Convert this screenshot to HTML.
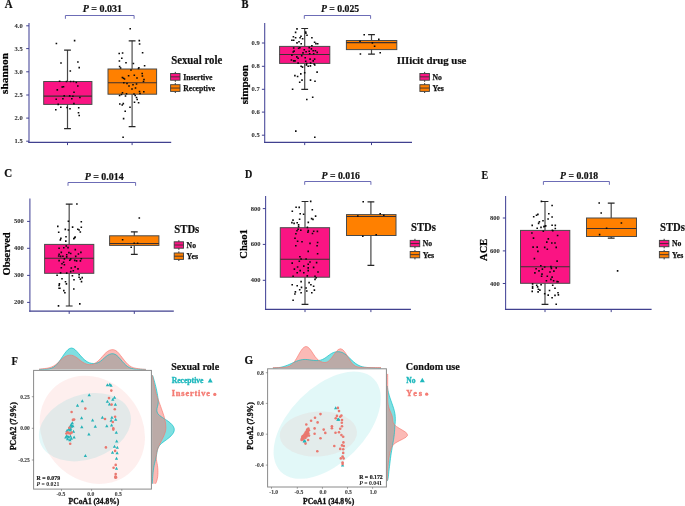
<!DOCTYPE html>
<html lang="en"><head><meta charset="utf-8"><title>Figure</title>
<style>
html,body{margin:0;padding:0;background:#fff;}
body{width:685px;height:506px;overflow:hidden;font-family:"Liberation Serif",serif;}
svg{display:block;}
text{white-space:pre;}
</style></head><body>
<svg width="685" height="506" viewBox="0 0 685 506" font-family="'Liberation Serif', serif" role="img" aria-label="Alpha and beta diversity figure">
<rect width="685" height="506" fill="#fff"/>
<path d="M29 23 V142.9" fill="none" stroke="#4c4c9c" stroke-width="1.1"/>
<path d="M28.35 142.4 H171.2" fill="none" stroke="#40408f" stroke-width="1.2"/>
<path d="M26.2 25.8 H29" stroke="#40408f" stroke-width="1"/>
<text x="22.7" y="27.85" font-size="6.5" font-weight="bold" text-anchor="end" fill="#303030" stroke="#303030" stroke-width="0.08">4.0</text>
<path d="M26.2 48.6 H29" stroke="#40408f" stroke-width="1"/>
<text x="22.7" y="50.65" font-size="6.5" font-weight="bold" text-anchor="end" fill="#303030" stroke="#303030" stroke-width="0.08">3.5</text>
<path d="M26.2 71.8 H29" stroke="#40408f" stroke-width="1"/>
<text x="22.7" y="73.85" font-size="6.5" font-weight="bold" text-anchor="end" fill="#303030" stroke="#303030" stroke-width="0.08">3.0</text>
<path d="M26.2 95 H29" stroke="#40408f" stroke-width="1"/>
<text x="22.7" y="97.05" font-size="6.5" font-weight="bold" text-anchor="end" fill="#303030" stroke="#303030" stroke-width="0.08">2.5</text>
<path d="M26.2 118.1 H29" stroke="#40408f" stroke-width="1"/>
<text x="22.7" y="120.15" font-size="6.5" font-weight="bold" text-anchor="end" fill="#303030" stroke="#303030" stroke-width="0.08">2.0</text>
<path d="M26.2 141.2 H29" stroke="#40408f" stroke-width="1"/>
<text x="22.7" y="143.25" font-size="6.5" font-weight="bold" text-anchor="end" fill="#303030" stroke="#303030" stroke-width="0.08">1.5</text>
<path d="M67.5 142.3 V145.1" stroke="#40408f" stroke-width="1"/>
<path d="M132.1 142.3 V145.1" stroke="#40408f" stroke-width="1"/>
<path d="M65.4 18.8 V15.5 H134.1 V18.8" fill="none" stroke="#6c6cb6" stroke-width="1"/>
<text x="102.35" y="12.1" font-size="10" font-weight="bold" text-anchor="middle" fill="#111" stroke="#111" stroke-width="0.22" textLength="39.3" lengthAdjust="spacingAndGlyphs"><tspan font-style="italic">P</tspan> = 0.031</text>
<path d="M67.5 50.1 V128.6" stroke="#474747" stroke-width="1.2" fill="none"/>
<path d="M64.1 50.2 H70.9 M64.1 128.7 H70.9" stroke="#262626" stroke-width="1.2" fill="none"/>
<rect x="43.7" y="81.5" width="48.2" height="22.9" fill="#fa1483" stroke="#4a4a4a" stroke-width="1"/>
<path d="M43.7 96.1 H91.9" stroke="#3c3030" stroke-width="1.05"/>
<path d="M132.1 40.7 V126.5" stroke="#5c5c5c" stroke-width="1.3" fill="none"/>
<path d="M128.7 40.8 H135.5 M128.7 126.6 H135.5" stroke="#262626" stroke-width="1.2" fill="none"/>
<rect x="108" y="69" width="48.6" height="25.2" fill="#ff8000" stroke="#4a4a4a" stroke-width="1"/>
<path d="M108 82.7 H156.6" stroke="#3c3030" stroke-width="1.05"/>
<path d="M55.6 42.7h1.6v1.6h-1.6zM73.8 39.8h1.6v1.6h-1.6zM60.2 62.2h1.6v1.6h-1.6zM77.1 61.2h1.6v1.6h-1.6zM78.4 66.8h1.6v1.6h-1.6zM69.5 70.2h1.6v1.6h-1.6zM58.8 80.5h1.6v1.6h-1.6zM65.7 80.7h1.6v1.6h-1.6zM69.8 80.7h1.6v1.6h-1.6zM72.7 80.7h1.6v1.6h-1.6zM75.5 81.7h1.6v1.6h-1.6zM77 85.2h1.6v1.6h-1.6zM62.7 86h1.6v1.6h-1.6zM61.4 86.2h1.6v1.6h-1.6zM56.5 89.1h1.6v1.6h-1.6zM73.2 91.4h1.6v1.6h-1.6zM63.4 95.1h1.6v1.6h-1.6zM68.9 95.1h1.6v1.6h-1.6zM72.1 95.4h1.6v1.6h-1.6zM55.4 98.4h1.6v1.6h-1.6zM62.1 97.9h1.6v1.6h-1.6zM71 97.9h1.6v1.6h-1.6zM79.1 96.7h1.6v1.6h-1.6zM57.4 103.6h1.6v1.6h-1.6zM73.1 102.8h1.6v1.6h-1.6zM55 108.9h1.6v1.6h-1.6zM60 106.5h1.6v1.6h-1.6zM66.2 106.7h1.6v1.6h-1.6zM69.2 108h1.6v1.6h-1.6zM77.9 107h1.6v1.6h-1.6zM77.7 112h1.6v1.6h-1.6zM78.4 114.7h1.6v1.6h-1.6zM129.4 28h1.6v1.6h-1.6zM138.5 39.8h1.6v1.6h-1.6zM138.8 43.2h1.6v1.6h-1.6zM118.4 52.7h1.6v1.6h-1.6zM121.8 52.2h1.6v1.6h-1.6zM121 57.4h1.6v1.6h-1.6zM141.8 51.9h1.6v1.6h-1.6zM118.6 60.2h1.6v1.6h-1.6zM125.2 62h1.6v1.6h-1.6zM132.6 62.7h1.6v1.6h-1.6zM143.8 65h1.6v1.6h-1.6zM118.8 65.7h1.6v1.6h-1.6zM119.8 67.2h1.6v1.6h-1.6zM137.7 67.7h1.6v1.6h-1.6zM138.1 67h1.6v1.6h-1.6zM127.8 75h1.6v1.6h-1.6zM133.5 74.5h1.6v1.6h-1.6zM141.4 72.7h1.6v1.6h-1.6zM141.6 75.2h1.6v1.6h-1.6zM121.6 76.7h1.6v1.6h-1.6zM122.7 77.4h1.6v1.6h-1.6zM123.7 78.2h1.6v1.6h-1.6zM136.2 77.2h1.6v1.6h-1.6zM143.2 78.7h1.6v1.6h-1.6zM142.7 80.7h1.6v1.6h-1.6zM123 82h1.6v1.6h-1.6zM126.2 82.7h1.6v1.6h-1.6zM132.2 84h1.6v1.6h-1.6zM135.7 83.2h1.6v1.6h-1.6zM134.7 87.2h1.6v1.6h-1.6zM138.7 90.7h1.6v1.6h-1.6zM143 91h1.6v1.6h-1.6zM139.2 92.7h1.6v1.6h-1.6zM121.7 92h1.6v1.6h-1.6zM125.7 93h1.6v1.6h-1.6zM133.2 93.2h1.6v1.6h-1.6zM118.8 94.7h1.6v1.6h-1.6zM120.7 93.7h1.6v1.6h-1.6zM124.7 95.2h1.6v1.6h-1.6zM134.4 94.7h1.6v1.6h-1.6zM135.7 96.7h1.6v1.6h-1.6zM136.4 98.7h1.6v1.6h-1.6zM133.7 101.5h1.6v1.6h-1.6zM137.8 102h1.6v1.6h-1.6zM119 103.2h1.6v1.6h-1.6zM121.4 104.2h1.6v1.6h-1.6zM122.5 102.8h1.6v1.6h-1.6zM129.2 106.4h1.6v1.6h-1.6zM124.4 110.4h1.6v1.6h-1.6zM122.8 117.8h1.6v1.6h-1.6zM122.3 136.4h1.6v1.6h-1.6zM130.2 69.2h1.6v1.6h-1.6zM128.2 85.2h1.6v1.6h-1.6zM131.2 88.2h1.6v1.6h-1.6z" fill="#0a0a0a"/>
<text x="4.8" y="8.1" font-size="11.6" font-weight="bold" text-anchor="start" fill="#111" textLength="7.8" lengthAdjust="spacingAndGlyphs" stroke="#111" stroke-width="0.22">A</text>
<text transform="translate(7.8 73.5) rotate(-90)" font-size="11" font-weight="bold" text-anchor="middle" fill="#000" stroke="#000" stroke-width="0.22" textLength="41" lengthAdjust="spacingAndGlyphs">shannon</text>
<text x="171.2" y="64.3" font-size="12.3" font-weight="bold" text-anchor="start" fill="#111" textLength="51" lengthAdjust="spacingAndGlyphs" stroke="#111" stroke-width="0.22">Sexual role</text>
<path d="M175.3 71.9 V81.8" stroke="#333" stroke-width="1"/>
<rect x="170.6" y="73.5" width="9.4" height="6.7" fill="#fa1483" stroke="#444" stroke-width="0.95"/>
<path d="M170.6 76.85 H180" stroke="#3a3030" stroke-width="0.9"/>
<text x="183.3" y="79.7" font-size="9.2" font-weight="bold" text-anchor="start" fill="#111" textLength="29.2" lengthAdjust="spacingAndGlyphs" stroke="#111" stroke-width="0.25">Insertive</text>
<path d="M175.3 83.1 V93" stroke="#333" stroke-width="1"/>
<rect x="170.6" y="84.7" width="9.4" height="6.7" fill="#ff8000" stroke="#444" stroke-width="0.95"/>
<path d="M170.6 88.05 H180" stroke="#3a3030" stroke-width="0.9"/>
<text x="183.3" y="90.9" font-size="9.2" font-weight="bold" text-anchor="start" fill="#111" textLength="31.8" lengthAdjust="spacingAndGlyphs" stroke="#111" stroke-width="0.25">Receptive</text>
<path d="M264.7 23 V142.9" fill="none" stroke="#4c4c9c" stroke-width="1.1"/>
<path d="M264.05 142.4 H412" fill="none" stroke="#40408f" stroke-width="1.2"/>
<path d="M261.9 43 H264.7" stroke="#40408f" stroke-width="1"/>
<text x="259.7" y="45.05" font-size="6.5" font-weight="bold" text-anchor="end" fill="#303030" stroke="#303030" stroke-width="0.08">0.9</text>
<path d="M261.9 66.3 H264.7" stroke="#40408f" stroke-width="1"/>
<text x="259.7" y="68.35" font-size="6.5" font-weight="bold" text-anchor="end" fill="#303030" stroke="#303030" stroke-width="0.08">0.8</text>
<path d="M261.9 89.3 H264.7" stroke="#40408f" stroke-width="1"/>
<text x="259.7" y="91.35" font-size="6.5" font-weight="bold" text-anchor="end" fill="#303030" stroke="#303030" stroke-width="0.08">0.7</text>
<path d="M261.9 112.1 H264.7" stroke="#40408f" stroke-width="1"/>
<text x="259.7" y="114.15" font-size="6.5" font-weight="bold" text-anchor="end" fill="#303030" stroke="#303030" stroke-width="0.08">0.6</text>
<path d="M261.9 135.2 H264.7" stroke="#40408f" stroke-width="1"/>
<text x="259.7" y="137.25" font-size="6.5" font-weight="bold" text-anchor="end" fill="#303030" stroke="#303030" stroke-width="0.08">0.5</text>
<path d="M304.7 142.3 V145.1" stroke="#40408f" stroke-width="1"/>
<path d="M371.5 142.3 V145.1" stroke="#40408f" stroke-width="1"/>
<path d="M304.3 18.8 V15.5 H370.6 V18.8" fill="none" stroke="#6c6cb6" stroke-width="1"/>
<text x="340.1" y="12.1" font-size="10" font-weight="bold" text-anchor="middle" fill="#111" stroke="#111" stroke-width="0.22" textLength="38.2" lengthAdjust="spacingAndGlyphs"><tspan font-style="italic">P</tspan> = 0.025</text>
<path d="M304.7 28.4 V89.3" stroke="#474747" stroke-width="1.2" fill="none"/>
<path d="M301.3 28.5 H308.1 M301.3 89.4 H308.1" stroke="#262626" stroke-width="1.2" fill="none"/>
<rect x="279.6" y="46.4" width="50.2" height="17" fill="#fa1483" stroke="#4a4a4a" stroke-width="1"/>
<path d="M279.6 54.4 H329.8" stroke="#3c3030" stroke-width="1.05"/>
<path d="M371.5 34.6 V54" stroke="#474747" stroke-width="1.2" fill="none"/>
<path d="M368.1 34.7 H374.9 M368.1 54.1 H374.9" stroke="#262626" stroke-width="1.2" fill="none"/>
<rect x="346.4" y="40.5" width="50.4" height="9.1" fill="#ff8000" stroke="#4a4a4a" stroke-width="1"/>
<path d="M346.4 42.6 H396.8" stroke="#3c3030" stroke-width="1.05"/>
<path d="M296.2 28.1h1.6v1.6h-1.6zM294.8 31.6h1.6v1.6h-1.6zM304.9 31.2h1.6v1.6h-1.6zM305.1 32.4h1.6v1.6h-1.6zM306.2 34.5h1.6v1.6h-1.6zM292.6 35.9h1.6v1.6h-1.6zM294.8 37h1.6v1.6h-1.6zM300.2 35.5h1.6v1.6h-1.6zM299.3 37h1.6v1.6h-1.6zM301.8 37.9h1.6v1.6h-1.6zM311.1 37h1.6v1.6h-1.6zM291.1 39.5h1.6v1.6h-1.6zM292.9 39.5h1.6v1.6h-1.6zM296.2 42.1h1.6v1.6h-1.6zM298.2 41h1.6v1.6h-1.6zM300.4 43h1.6v1.6h-1.6zM313.8 41.4h1.6v1.6h-1.6zM315.1 42.8h1.6v1.6h-1.6zM316.9 43h1.6v1.6h-1.6zM311.1 45h1.6v1.6h-1.6zM292.9 47.2h1.6v1.6h-1.6zM297.8 47.5h1.6v1.6h-1.6zM299.1 46.9h1.6v1.6h-1.6zM308.4 46.8h1.6v1.6h-1.6zM310.6 48.1h1.6v1.6h-1.6zM303.5 49h1.6v1.6h-1.6zM293.3 50.3h1.6v1.6h-1.6zM305.3 51h1.6v1.6h-1.6zM308.4 50.5h1.6v1.6h-1.6zM312.4 49.9h1.6v1.6h-1.6zM314.6 49.9h1.6v1.6h-1.6zM316.4 51.6h1.6v1.6h-1.6zM302.2 52.1h1.6v1.6h-1.6zM292.4 51.2h1.6v1.6h-1.6zM312.9 53h1.6v1.6h-1.6zM308.9 53h1.6v1.6h-1.6zM291.1 54.3h1.6v1.6h-1.6zM300.9 54.8h1.6v1.6h-1.6zM296 56.1h1.6v1.6h-1.6zM297.3 57.4h1.6v1.6h-1.6zM304.4 57h1.6v1.6h-1.6zM309.3 58.3h1.6v1.6h-1.6zM313.8 58.3h1.6v1.6h-1.6zM290.6 59.2h1.6v1.6h-1.6zM292.9 60.1h1.6v1.6h-1.6zM294.2 60.1h1.6v1.6h-1.6zM312.4 60.1h1.6v1.6h-1.6zM304.9 60.5h1.6v1.6h-1.6zM297.3 62.3h1.6v1.6h-1.6zM305.8 62.8h1.6v1.6h-1.6zM309.8 62.3h1.6v1.6h-1.6zM313.3 63.2h1.6v1.6h-1.6zM300.3 65.4h1.6v1.6h-1.6zM301.7 66.3h1.6v1.6h-1.6zM305.6 64.2h1.6v1.6h-1.6zM307.4 65.4h1.6v1.6h-1.6zM309.6 65.1h1.6v1.6h-1.6zM314 64.2h1.6v1.6h-1.6zM316.3 71.3h1.6v1.6h-1.6zM303.9 72h1.6v1.6h-1.6zM300 73.1h1.6v1.6h-1.6zM294.1 74.8h1.6v1.6h-1.6zM296.8 75.7h1.6v1.6h-1.6zM301.2 79.3h1.6v1.6h-1.6zM298.9 81.4h1.6v1.6h-1.6zM309.7 79.3h1.6v1.6h-1.6zM314.2 80.5h1.6v1.6h-1.6zM291.8 88.5h1.6v1.6h-1.6zM311.9 96.5h1.6v1.6h-1.6zM306 98.7h1.6v1.6h-1.6zM295 130.3h1.6v1.6h-1.6zM314 136.5h1.6v1.6h-1.6zM363.4 33.9h1.6v1.6h-1.6zM378 38.6h1.6v1.6h-1.6zM359.2 40.4h1.6v1.6h-1.6zM371.6 42.1h1.6v1.6h-1.6zM373.8 45.4h1.6v1.6h-1.6zM359.6 53.2h1.6v1.6h-1.6zM379.4 51.9h1.6v1.6h-1.6z" fill="#0a0a0a"/>
<text x="241.6" y="8.3" font-size="11.6" font-weight="bold" text-anchor="start" fill="#111" textLength="7" lengthAdjust="spacingAndGlyphs" stroke="#111" stroke-width="0.22">B</text>
<text transform="translate(247.5 84.6) rotate(-90)" font-size="11" font-weight="bold" text-anchor="middle" fill="#000" stroke="#000" stroke-width="0.22" textLength="39.5" lengthAdjust="spacingAndGlyphs">simpson</text>
<text x="396.7" y="64.3" font-size="11.3" font-weight="bold" text-anchor="start" fill="#111" textLength="69.7" lengthAdjust="spacingAndGlyphs" stroke="#111" stroke-width="0.22">IIIicit drug use</text>
<path d="M424.65 71.9 V81.8" stroke="#333" stroke-width="1"/>
<rect x="419.9" y="73.5" width="9.5" height="6.7" fill="#fa1483" stroke="#444" stroke-width="0.95"/>
<path d="M419.9 76.85 H429.4" stroke="#3a3030" stroke-width="0.9"/>
<text x="432.5" y="79.7" font-size="9.2" font-weight="bold" text-anchor="start" fill="#111" textLength="9.4" lengthAdjust="spacingAndGlyphs" stroke="#111" stroke-width="0.25">No</text>
<path d="M424.65 83.1 V93" stroke="#333" stroke-width="1"/>
<rect x="419.9" y="84.7" width="9.5" height="6.7" fill="#ff8000" stroke="#444" stroke-width="0.95"/>
<path d="M419.9 88.05 H429.4" stroke="#3a3030" stroke-width="0.9"/>
<text x="432.5" y="90.9" font-size="9.2" font-weight="bold" text-anchor="start" fill="#111" textLength="11.4" lengthAdjust="spacingAndGlyphs" stroke="#111" stroke-width="0.25">Yes</text>
<path d="M29.9 198.4 V311.7" fill="none" stroke="#4c4c9c" stroke-width="1.1"/>
<path d="M29.25 311.2 H173.8" fill="none" stroke="#40408f" stroke-width="1.2"/>
<path d="M27.1 221.4 H29.9" stroke="#40408f" stroke-width="1"/>
<text x="23.7" y="223.45" font-size="6.5" font-weight="bold" text-anchor="end" fill="#303030" stroke="#303030" stroke-width="0.08">500</text>
<path d="M27.1 248.3 H29.9" stroke="#40408f" stroke-width="1"/>
<text x="23.7" y="250.35" font-size="6.5" font-weight="bold" text-anchor="end" fill="#303030" stroke="#303030" stroke-width="0.08">400</text>
<path d="M27.1 275.4 H29.9" stroke="#40408f" stroke-width="1"/>
<text x="23.7" y="277.45" font-size="6.5" font-weight="bold" text-anchor="end" fill="#303030" stroke="#303030" stroke-width="0.08">300</text>
<path d="M27.1 302.4 H29.9" stroke="#40408f" stroke-width="1"/>
<text x="23.7" y="304.45" font-size="6.5" font-weight="bold" text-anchor="end" fill="#303030" stroke="#303030" stroke-width="0.08">200</text>
<path d="M69.2 311.1 V313.9" stroke="#40408f" stroke-width="1"/>
<path d="M134.3 311.1 V313.9" stroke="#40408f" stroke-width="1"/>
<path d="M68 185.8 V182.5 H135.6 V185.8" fill="none" stroke="#6c6cb6" stroke-width="1"/>
<text x="104.2" y="180" font-size="10" font-weight="bold" text-anchor="middle" fill="#111" stroke="#111" stroke-width="0.22" textLength="39" lengthAdjust="spacingAndGlyphs"><tspan font-style="italic">P</tspan> = 0.014</text>
<path d="M69.2 204.1 V305.9" stroke="#5e5e5e" stroke-width="1.35" fill="none"/>
<path d="M65.8 204.2 H72.6 M65.8 306 H72.6" stroke="#262626" stroke-width="1.2" fill="none"/>
<rect x="44.6" y="244.4" width="49.2" height="28.9" fill="#fa1483" stroke="#4a4a4a" stroke-width="1"/>
<path d="M44.6 258.3 H93.8" stroke="#3c3030" stroke-width="1.05"/>
<path d="M134.3 231.7 V254.2" stroke="#474747" stroke-width="1.2" fill="none"/>
<path d="M130.9 231.8 H137.7 M130.9 254.3 H137.7" stroke="#262626" stroke-width="1.2" fill="none"/>
<rect x="109.6" y="235.8" width="49.3" height="9.6" fill="#ff8000" stroke="#4a4a4a" stroke-width="1"/>
<path d="M109.6 243.4 H158.9" stroke="#3c3030" stroke-width="1.05"/>
<path d="M76.1 203.2h1.6v1.6h-1.6zM67.6 220.5h1.6v1.6h-1.6zM80.5 220.9h1.6v1.6h-1.6zM57 225.6h1.6v1.6h-1.6zM71.8 226.3h1.6v1.6h-1.6zM80.5 226.5h1.6v1.6h-1.6zM64.5 228.6h1.6v1.6h-1.6zM67.6 229.2h1.6v1.6h-1.6zM77 228.5h1.6v1.6h-1.6zM78.3 229.2h1.6v1.6h-1.6zM79.5 231.2h1.6v1.6h-1.6zM57.9 231.4h1.6v1.6h-1.6zM65.2 236h1.6v1.6h-1.6zM74.3 236.3h1.6v1.6h-1.6zM73 237.9h1.6v1.6h-1.6zM73.7 237.1h1.6v1.6h-1.6zM60.1 237.6h1.6v1.6h-1.6zM59.5 239.2h1.6v1.6h-1.6zM65 240.3h1.6v1.6h-1.6zM58.3 247.4h1.6v1.6h-1.6zM63 247h1.6v1.6h-1.6zM65.4 245.2h1.6v1.6h-1.6zM67.2 246.8h1.6v1.6h-1.6zM74.5 248.8h1.6v1.6h-1.6zM60.5 251.6h1.6v1.6h-1.6zM58.3 253.4h1.6v1.6h-1.6zM68.1 251.8h1.6v1.6h-1.6zM69.9 252.7h1.6v1.6h-1.6zM65.9 253.9h1.6v1.6h-1.6zM77.6 253.2h1.6v1.6h-1.6zM80.1 251.6h1.6v1.6h-1.6zM57.9 255.2h1.6v1.6h-1.6zM59.8 255.6h1.6v1.6h-1.6zM62.1 255.5h1.6v1.6h-1.6zM65.9 256.1h1.6v1.6h-1.6zM74.9 255.6h1.6v1.6h-1.6zM63.6 258.1h1.6v1.6h-1.6zM69.9 258.1h1.6v1.6h-1.6zM80.5 257.9h1.6v1.6h-1.6zM58.3 259.8h1.6v1.6h-1.6zM69 259.5h1.6v1.6h-1.6zM73.9 259.6h1.6v1.6h-1.6zM75.8 260.1h1.6v1.6h-1.6zM79.6 260.1h1.6v1.6h-1.6zM62.8 261.4h1.6v1.6h-1.6zM61.2 263h1.6v1.6h-1.6zM63.6 263.9h1.6v1.6h-1.6zM60.5 267h1.6v1.6h-1.6zM74.3 266.1h1.6v1.6h-1.6zM70.5 267.2h1.6v1.6h-1.6zM77.2 268.1h1.6v1.6h-1.6zM72.5 269.9h1.6v1.6h-1.6zM69.9 270.8h1.6v1.6h-1.6zM59.8 272.1h1.6v1.6h-1.6zM65.9 272.3h1.6v1.6h-1.6zM56.3 274.5h1.6v1.6h-1.6zM71.6 275h1.6v1.6h-1.6zM78.3 273.9h1.6v1.6h-1.6zM78.3 276.4h1.6v1.6h-1.6zM81.4 276.8h1.6v1.6h-1.6zM79.6 278.3h1.6v1.6h-1.6zM61.2 278h1.6v1.6h-1.6zM73.2 279h1.6v1.6h-1.6zM80.7 280.8h1.6v1.6h-1.6zM64.7 281h1.6v1.6h-1.6zM65.6 283.1h1.6v1.6h-1.6zM58.6 283.1h1.6v1.6h-1.6zM58.3 284.7h1.6v1.6h-1.6zM58.3 287.5h1.6v1.6h-1.6zM59.1 287.5h1.6v1.6h-1.6zM73 288.2h1.6v1.6h-1.6zM63 289.8h1.6v1.6h-1.6zM64.1 292h1.6v1.6h-1.6zM57.7 305.1h1.6v1.6h-1.6zM79 303.1h1.6v1.6h-1.6zM138.5 217.2h1.6v1.6h-1.6zM121.8 239h1.6v1.6h-1.6zM133.4 242.5h1.6v1.6h-1.6zM136.8 242.5h1.6v1.6h-1.6zM130.4 246.5h1.6v1.6h-1.6z" fill="#0a0a0a"/>
<text x="4.2" y="177.1" font-size="12.2" font-weight="bold" text-anchor="start" fill="#111" textLength="7.9" lengthAdjust="spacingAndGlyphs" stroke="#111" stroke-width="0.22">C</text>
<text transform="translate(9.5 253.9) rotate(-90)" font-size="11" font-weight="bold" text-anchor="middle" fill="#000" stroke="#000" stroke-width="0.22" textLength="43" lengthAdjust="spacingAndGlyphs">Observed</text>
<text x="174.3" y="232.8" font-size="12.3" font-weight="bold" text-anchor="start" fill="#111" textLength="25" lengthAdjust="spacingAndGlyphs" stroke="#111" stroke-width="0.22">STDs</text>
<path d="M178.85 240.2 V249.8" stroke="#333" stroke-width="1"/>
<rect x="174.2" y="241.8" width="9.3" height="6.4" fill="#fa1483" stroke="#444" stroke-width="0.95"/>
<path d="M174.2 245 H183.5" stroke="#3a3030" stroke-width="0.9"/>
<text x="186.6" y="247.85" font-size="9.2" font-weight="bold" text-anchor="start" fill="#111" textLength="9.4" lengthAdjust="spacingAndGlyphs" stroke="#111" stroke-width="0.25">No</text>
<path d="M178.85 251.4 V261" stroke="#333" stroke-width="1"/>
<rect x="174.2" y="253" width="9.3" height="6.4" fill="#ff8000" stroke="#444" stroke-width="0.95"/>
<path d="M174.2 256.2 H183.5" stroke="#3a3030" stroke-width="0.9"/>
<text x="186.6" y="259.05" font-size="9.2" font-weight="bold" text-anchor="start" fill="#111" textLength="11.4" lengthAdjust="spacingAndGlyphs" stroke="#111" stroke-width="0.25">Yes</text>
<path d="M265.6 196 V309.9" fill="none" stroke="#4c4c9c" stroke-width="1.1"/>
<path d="M264.95 309.4 H410.9" fill="none" stroke="#40408f" stroke-width="1.2"/>
<path d="M262.8 208.6 H265.6" stroke="#40408f" stroke-width="1"/>
<text x="260.4" y="210.65" font-size="6.5" font-weight="bold" text-anchor="end" fill="#303030" stroke="#303030" stroke-width="0.08">800</text>
<path d="M262.8 244.4 H265.6" stroke="#40408f" stroke-width="1"/>
<text x="260.4" y="246.45" font-size="6.5" font-weight="bold" text-anchor="end" fill="#303030" stroke="#303030" stroke-width="0.08">600</text>
<path d="M262.8 280.3 H265.6" stroke="#40408f" stroke-width="1"/>
<text x="260.4" y="282.35" font-size="6.5" font-weight="bold" text-anchor="end" fill="#303030" stroke="#303030" stroke-width="0.08">400</text>
<path d="M305 309.3 V312.1" stroke="#40408f" stroke-width="1"/>
<path d="M370.9 309.3 V312.1" stroke="#40408f" stroke-width="1"/>
<path d="M304.7 184.8 V181.5 H370.9 V184.8" fill="none" stroke="#6c6cb6" stroke-width="1"/>
<text x="340.75" y="178.6" font-size="10" font-weight="bold" text-anchor="middle" fill="#111" stroke="#111" stroke-width="0.22" textLength="38.3" lengthAdjust="spacingAndGlyphs"><tspan font-style="italic">P</tspan> = 0.016</text>
<path d="M305 201.4 V304.3" stroke="#5e5e5e" stroke-width="1.35" fill="none"/>
<path d="M301.6 201.5 H308.4 M301.6 304.4 H308.4" stroke="#262626" stroke-width="1.2" fill="none"/>
<rect x="280.3" y="227.7" width="49.3" height="49.5" fill="#fa1483" stroke="#4a4a4a" stroke-width="1"/>
<path d="M280.3 259.2 H329.6" stroke="#3c3030" stroke-width="1.05"/>
<path d="M370.9 201.8 V265.2" stroke="#474747" stroke-width="1.2" fill="none"/>
<path d="M367.5 201.9 H374.3 M367.5 265.3 H374.3" stroke="#262626" stroke-width="1.2" fill="none"/>
<rect x="346.5" y="214.6" width="49.5" height="20.9" fill="#ff8000" stroke="#4a4a4a" stroke-width="1"/>
<path d="M346.5 216.5 H396" stroke="#3c3030" stroke-width="1.05"/>
<path d="M309.9 200.6h1.6v1.6h-1.6zM295.3 206.4h1.6v1.6h-1.6zM298.4 206.6h1.6v1.6h-1.6zM291.5 210.4h1.6v1.6h-1.6zM311.5 208.9h1.6v1.6h-1.6zM299.4 213h1.6v1.6h-1.6zM302.8 213.5h1.6v1.6h-1.6zM314.8 215.3h1.6v1.6h-1.6zM310.8 217.8h1.6v1.6h-1.6zM312.2 218.6h1.6v1.6h-1.6zM298.8 218.4h1.6v1.6h-1.6zM292.2 219.3h1.6v1.6h-1.6zM291.1 221.8h1.6v1.6h-1.6zM293.3 222.6h1.6v1.6h-1.6zM296.4 222h1.6v1.6h-1.6zM307.5 221.6h1.6v1.6h-1.6zM297.8 224h1.6v1.6h-1.6zM297.8 225.8h1.6v1.6h-1.6zM306.6 226.6h1.6v1.6h-1.6zM297.3 228.4h1.6v1.6h-1.6zM300 229.5h1.6v1.6h-1.6zM296.2 230h1.6v1.6h-1.6zM307.5 229.8h1.6v1.6h-1.6zM307.1 231.4h1.6v1.6h-1.6zM312.9 230.4h1.6v1.6h-1.6zM316.6 230.6h1.6v1.6h-1.6zM311.7 232.7h1.6v1.6h-1.6zM295.1 232.9h1.6v1.6h-1.6zM294.2 237.5h1.6v1.6h-1.6zM296.8 240.4h1.6v1.6h-1.6zM301.2 241h1.6v1.6h-1.6zM309.2 242.6h1.6v1.6h-1.6zM316.8 241.7h1.6v1.6h-1.6zM295 244.9h1.6v1.6h-1.6zM316.3 244.9h1.6v1.6h-1.6zM307.4 250.6h1.6v1.6h-1.6zM316.8 252.9h1.6v1.6h-1.6zM299.1 255.9h1.6v1.6h-1.6zM300.3 258.2h1.6v1.6h-1.6zM305.3 258.2h1.6v1.6h-1.6zM298.5 260.5h1.6v1.6h-1.6zM291.4 262.3h1.6v1.6h-1.6zM309.2 261.2h1.6v1.6h-1.6zM315.8 261.8h1.6v1.6h-1.6zM307.4 263.5h1.6v1.6h-1.6zM303 265.3h1.6v1.6h-1.6zM296.8 266.2h1.6v1.6h-1.6zM312.8 266.6h1.6v1.6h-1.6zM307.4 267.1h1.6v1.6h-1.6zM293.6 268.3h1.6v1.6h-1.6zM299.4 269.8h1.6v1.6h-1.6zM307.4 269.8h1.6v1.6h-1.6zM296.4 271.9h1.6v1.6h-1.6zM303 271.9h1.6v1.6h-1.6zM317.2 271.2h1.6v1.6h-1.6zM292.3 275.4h1.6v1.6h-1.6zM306.5 275.1h1.6v1.6h-1.6zM314.2 275.4h1.6v1.6h-1.6zM315.4 276.9h1.6v1.6h-1.6zM314.2 278.6h1.6v1.6h-1.6zM300.3 280.8h1.6v1.6h-1.6zM308.3 281.8h1.6v1.6h-1.6zM291.4 284h1.6v1.6h-1.6zM296.4 284.9h1.6v1.6h-1.6zM310.1 284h1.6v1.6h-1.6zM312.8 285.4h1.6v1.6h-1.6zM300.7 286.6h1.6v1.6h-1.6zM305.3 287.2h1.6v1.6h-1.6zM298.9 289h1.6v1.6h-1.6zM313.6 289.3h1.6v1.6h-1.6zM306 290.2h1.6v1.6h-1.6zM294.6 291.1h1.6v1.6h-1.6zM300.3 292h1.6v1.6h-1.6zM311 292h1.6v1.6h-1.6zM294.1 293.2h1.6v1.6h-1.6zM292.3 299.4h1.6v1.6h-1.6zM362.4 201h1.6v1.6h-1.6zM357 215.2h1.6v1.6h-1.6zM379.4 212.9h1.6v1.6h-1.6zM383 214.5h1.6v1.6h-1.6zM362 235.4h1.6v1.6h-1.6zM375.4 234h1.6v1.6h-1.6z" fill="#0a0a0a"/>
<text x="245" y="178.4" font-size="11.6" font-weight="bold" text-anchor="start" fill="#111" textLength="7.3" lengthAdjust="spacingAndGlyphs" stroke="#111" stroke-width="0.22">D</text>
<text transform="translate(246.6 244) rotate(-90)" font-size="11" font-weight="bold" text-anchor="middle" fill="#000" stroke="#000" stroke-width="0.22" textLength="29.5" lengthAdjust="spacingAndGlyphs">Chao1</text>
<text x="411" y="231.3" font-size="12.3" font-weight="bold" text-anchor="start" fill="#111" textLength="25" lengthAdjust="spacingAndGlyphs" stroke="#111" stroke-width="0.22">STDs</text>
<path d="M414.95 238.8 V248.3" stroke="#333" stroke-width="1"/>
<rect x="410.2" y="240.4" width="9.5" height="6.3" fill="#fa1483" stroke="#444" stroke-width="0.95"/>
<path d="M410.2 243.55 H419.7" stroke="#3a3030" stroke-width="0.9"/>
<text x="422.8" y="246.4" font-size="9.2" font-weight="bold" text-anchor="start" fill="#111" textLength="9.4" lengthAdjust="spacingAndGlyphs" stroke="#111" stroke-width="0.25">No</text>
<path d="M414.95 249.9 V259.4" stroke="#333" stroke-width="1"/>
<rect x="410.2" y="251.5" width="9.5" height="6.3" fill="#ff8000" stroke="#444" stroke-width="0.95"/>
<path d="M410.2 254.65 H419.7" stroke="#3a3030" stroke-width="0.9"/>
<text x="422.8" y="257.5" font-size="9.2" font-weight="bold" text-anchor="start" fill="#111" textLength="11.4" lengthAdjust="spacingAndGlyphs" stroke="#111" stroke-width="0.25">Yes</text>
<path d="M505.6 196.1 V309.9" fill="none" stroke="#4c4c9c" stroke-width="1.1"/>
<path d="M504.95 309.4 H651.6" fill="none" stroke="#40408f" stroke-width="1.2"/>
<path d="M502.8 218 H505.6" stroke="#40408f" stroke-width="1"/>
<text x="499.7" y="220.05" font-size="6.5" font-weight="bold" text-anchor="end" fill="#303030" stroke="#303030" stroke-width="0.08">800</text>
<path d="M502.8 250.9 H505.6" stroke="#40408f" stroke-width="1"/>
<text x="499.7" y="252.95" font-size="6.5" font-weight="bold" text-anchor="end" fill="#303030" stroke="#303030" stroke-width="0.08">600</text>
<path d="M502.8 283.5 H505.6" stroke="#40408f" stroke-width="1"/>
<text x="499.7" y="285.55" font-size="6.5" font-weight="bold" text-anchor="end" fill="#303030" stroke="#303030" stroke-width="0.08">400</text>
<path d="M545 309.3 V312.1" stroke="#40408f" stroke-width="1"/>
<path d="M611.2 309.3 V312.1" stroke="#40408f" stroke-width="1"/>
<path d="M543.4 184.8 V181.5 H609.4 V184.8" fill="none" stroke="#6c6cb6" stroke-width="1"/>
<text x="579.15" y="178.6" font-size="10" font-weight="bold" text-anchor="middle" fill="#111" stroke="#111" stroke-width="0.22" textLength="38.1" lengthAdjust="spacingAndGlyphs"><tspan font-style="italic">P</tspan> = 0.018</text>
<path d="M545 201.4 V304.3" stroke="#5e5e5e" stroke-width="1.35" fill="none"/>
<path d="M541.6 201.5 H548.4 M541.6 304.4 H548.4" stroke="#262626" stroke-width="1.2" fill="none"/>
<rect x="520.5" y="230.4" width="49.3" height="52.9" fill="#fa1483" stroke="#4a4a4a" stroke-width="1"/>
<path d="M520.5 266.7 H569.8" stroke="#3c3030" stroke-width="1.05"/>
<path d="M611.2 203 V238" stroke="#474747" stroke-width="1.2" fill="none"/>
<path d="M607.8 203.1 H614.6 M607.8 238.1 H614.6" stroke="#262626" stroke-width="1.2" fill="none"/>
<rect x="586.5" y="218" width="50" height="18.5" fill="#ff8000" stroke="#4a4a4a" stroke-width="1"/>
<path d="M586.5 228.5 H636.5" stroke="#3c3030" stroke-width="1.05"/>
<path d="M540.6 200.6h1.6v1.6h-1.6zM551.3 204.7h1.6v1.6h-1.6zM548 213h1.6v1.6h-1.6zM537.1 213.6h1.6v1.6h-1.6zM535.7 214.4h1.6v1.6h-1.6zM532.9 216h1.6v1.6h-1.6zM551.3 216.2h1.6v1.6h-1.6zM547.3 218.2h1.6v1.6h-1.6zM542.2 220h1.6v1.6h-1.6zM538.6 220.9h1.6v1.6h-1.6zM537.8 222.6h1.6v1.6h-1.6zM531.4 224.6h1.6v1.6h-1.6zM551.3 224.4h1.6v1.6h-1.6zM554.5 224.6h1.6v1.6h-1.6zM543.1 225.8h1.6v1.6h-1.6zM544.9 225.1h1.6v1.6h-1.6zM543.8 225.5h1.6v1.6h-1.6zM540.2 226.6h1.6v1.6h-1.6zM536.4 227.5h1.6v1.6h-1.6zM554.5 227.7h1.6v1.6h-1.6zM552 230h1.6v1.6h-1.6zM551.6 229.4h1.6v1.6h-1.6zM542.5 230.4h1.6v1.6h-1.6zM531.1 232.2h1.6v1.6h-1.6zM556.8 234.7h1.6v1.6h-1.6zM532.7 237.3h1.6v1.6h-1.6zM547.5 238.1h1.6v1.6h-1.6zM546 241.3h1.6v1.6h-1.6zM551 242.2h1.6v1.6h-1.6zM554.2 242.2h1.6v1.6h-1.6zM532.3 246.3h1.6v1.6h-1.6zM536.4 246.3h1.6v1.6h-1.6zM543.9 246.6h1.6v1.6h-1.6zM546.5 248.4h1.6v1.6h-1.6zM555.4 246.6h1.6v1.6h-1.6zM537.1 250.6h1.6v1.6h-1.6zM533.6 257.8h1.6v1.6h-1.6zM556.3 260.3h1.6v1.6h-1.6zM540 265h1.6v1.6h-1.6zM543.9 266.2h1.6v1.6h-1.6zM550.1 265.8h1.6v1.6h-1.6zM550.6 267.6h1.6v1.6h-1.6zM555.4 267.1h1.6v1.6h-1.6zM535.3 268h1.6v1.6h-1.6zM541.6 268.3h1.6v1.6h-1.6zM538.2 270.1h1.6v1.6h-1.6zM553.1 270.3h1.6v1.6h-1.6zM549.2 271.2h1.6v1.6h-1.6zM534.1 272.1h1.6v1.6h-1.6zM541.2 273.3h1.6v1.6h-1.6zM540.8 275.4h1.6v1.6h-1.6zM546.5 275.4h1.6v1.6h-1.6zM551.3 276.3h1.6v1.6h-1.6zM550.1 278.6h1.6v1.6h-1.6zM545.6 279.9h1.6v1.6h-1.6zM552.8 279.9h1.6v1.6h-1.6zM556.3 280.8h1.6v1.6h-1.6zM557.2 281h1.6v1.6h-1.6zM531.8 283.1h1.6v1.6h-1.6zM535.9 284.5h1.6v1.6h-1.6zM540.3 284h1.6v1.6h-1.6zM551.9 284.5h1.6v1.6h-1.6zM531.8 285.8h1.6v1.6h-1.6zM536.8 286.1h1.6v1.6h-1.6zM531.8 287.5h1.6v1.6h-1.6zM554.2 287.5h1.6v1.6h-1.6zM537.6 288.4h1.6v1.6h-1.6zM539.1 289.3h1.6v1.6h-1.6zM548.7 289.7h1.6v1.6h-1.6zM531.4 290.6h1.6v1.6h-1.6zM537.3 291.1h1.6v1.6h-1.6zM557.2 292h1.6v1.6h-1.6zM543.9 292.9h1.6v1.6h-1.6zM557.6 294.1h1.6v1.6h-1.6zM547.4 294.3h1.6v1.6h-1.6zM554.2 294.6h1.6v1.6h-1.6zM551.3 297h1.6v1.6h-1.6zM555.4 303.5h1.6v1.6h-1.6zM598.4 202.2h1.6v1.6h-1.6zM600.4 212.2h1.6v1.6h-1.6zM620.6 222.2h1.6v1.6h-1.6zM605.8 227.5h1.6v1.6h-1.6zM598.8 233.8h1.6v1.6h-1.6zM616.8 270.1h1.6v1.6h-1.6z" fill="#0a0a0a"/>
<text x="481.4" y="178.8" font-size="11.6" font-weight="bold" text-anchor="start" fill="#111" textLength="6.6" lengthAdjust="spacingAndGlyphs" stroke="#111" stroke-width="0.22">E</text>
<text transform="translate(486.6 249.8) rotate(-90)" font-size="11" font-weight="bold" text-anchor="middle" fill="#000" stroke="#000" stroke-width="0.22" textLength="22.2" lengthAdjust="spacingAndGlyphs">ACE</text>
<text x="660" y="231.3" font-size="12.3" font-weight="bold" text-anchor="start" fill="#111" textLength="25" lengthAdjust="spacingAndGlyphs" stroke="#111" stroke-width="0.22">STDs</text>
<path d="M664.15 238.8 V248.3" stroke="#333" stroke-width="1"/>
<rect x="659.4" y="240.4" width="9.5" height="6.3" fill="#fa1483" stroke="#444" stroke-width="0.95"/>
<path d="M659.4 243.55 H668.9" stroke="#3a3030" stroke-width="0.9"/>
<text x="672" y="246.4" font-size="9.2" font-weight="bold" text-anchor="start" fill="#111" textLength="9.4" lengthAdjust="spacingAndGlyphs" stroke="#111" stroke-width="0.25">No</text>
<path d="M664.15 249.9 V259.4" stroke="#333" stroke-width="1"/>
<rect x="659.4" y="251.5" width="9.5" height="6.3" fill="#ff8000" stroke="#444" stroke-width="0.95"/>
<path d="M659.4 254.65 H668.9" stroke="#3a3030" stroke-width="0.9"/>
<text x="672" y="257.5" font-size="9.2" font-weight="bold" text-anchor="start" fill="#111" textLength="11.4" lengthAdjust="spacingAndGlyphs" stroke="#111" stroke-width="0.25">Yes</text>
<clipPath id="cf"><rect x="33.6" y="370.4" width="117.8" height="118.7"/></clipPath>
<rect x="33.6" y="370.4" width="117.8" height="118.7" fill="#fff"/>
<g clip-path="url(#cf)">
<ellipse cx="92.3" cy="429.8" rx="57" ry="49.5" transform="rotate(50.3 92.3 429.8)" fill="#f8766d" fill-opacity="0.115"/>
<ellipse cx="84.95" cy="427.2" rx="47.4" ry="32.3" transform="rotate(-18.8 84.95 427.2)" fill="#00bfc4" fill-opacity="0.105"/>
</g>
<path d="M39 369.4L39 369.4L40.81 369.36L42.62 369.31L44.44 369.22L46.25 369.11L48.06 368.92L49.87 368.63L51.68 368.11L53.49 367.25L55.31 365.93L57.12 364.11L58.93 361.86L60.74 359.29L62.55 356.57L64.37 353.9L66.18 351.51L67.99 349.6L69.8 348.4L71.61 348.02L73.43 348.54L75.24 349.81L77.05 351.64L78.86 353.72L80.67 355.85L82.48 357.84L84.3 359.59L86.11 361.04L87.92 362.15L89.73 362.91L91.54 363.35L93.36 363.49L95.17 363.39L96.98 363.02L98.79 362.31L100.6 361.2L102.42 359.72L104.23 358.06L106.04 356.48L107.85 355.16L109.66 354.23L111.47 353.74L113.29 353.75L115.1 354.32L116.91 355.49L118.72 357.22L120.53 359.31L122.35 361.49L124.16 363.53L125.97 365.28L127.78 366.66L129.59 367.67L131.41 368.34L133.22 368.75L135.03 368.99L136.84 369.14L138.65 369.23L140.46 369.3L142.28 369.35L144.09 369.38L145.9 369.4L145.9 369.4Z" fill="#00bfc4" fill-opacity="0.5"/>
<path d="M39 369.4L39 369.2L40.81 368.97L42.62 368.79L44.44 368.58L46.25 368.35L48.06 368.05L49.87 367.61L51.68 366.95L53.49 366.04L55.31 364.89L57.12 363.47L58.93 361.83L60.74 360.08L62.55 358.44L64.37 357.07L66.18 356.07L67.99 355.43L69.8 355.15L71.61 355.26L73.43 355.75L75.24 356.64L77.05 357.87L78.86 359.29L80.67 360.75L82.48 362.07L84.3 363.16L86.11 363.96L87.92 364.48L89.73 364.69L91.54 364.59L93.36 364.1L95.17 363.21L96.98 361.96L98.79 360.36L100.6 358.46L102.42 356.4L104.23 354.37L106.04 352.59L107.85 351.19L109.66 350.23L111.47 349.72L113.29 349.67L115.1 350.19L116.91 351.35L118.72 353.18L120.53 355.43L122.35 357.82L124.16 360.15L125.97 362.34L127.78 364.27L129.59 365.8L131.41 366.9L133.22 367.64L135.03 368.13L136.84 368.48L138.65 368.75L140.46 368.97L142.28 369.16L144.09 369.29L145.9 369.4L145.9 369.4Z" fill="#f8766d" fill-opacity="0.5"/>
<path d="M39 369.4L40.81 369.36L42.62 369.31L44.44 369.22L46.25 369.11L48.06 368.92L49.87 368.63L51.68 368.11L53.49 367.25L55.31 365.93L57.12 364.11L58.93 361.86L60.74 359.29L62.55 356.57L64.37 353.9L66.18 351.51L67.99 349.6L69.8 348.4L71.61 348.02L73.43 348.54L75.24 349.81L77.05 351.64L78.86 353.72L80.67 355.85L82.48 357.84L84.3 359.59L86.11 361.04L87.92 362.15L89.73 362.91L91.54 363.35L93.36 363.49L95.17 363.39L96.98 363.02L98.79 362.31L100.6 361.2L102.42 359.72L104.23 358.06L106.04 356.48L107.85 355.16L109.66 354.23L111.47 353.74L113.29 353.75L115.1 354.32L116.91 355.49L118.72 357.22L120.53 359.31L122.35 361.49L124.16 363.53L125.97 365.28L127.78 366.66L129.59 367.67L131.41 368.34L133.22 368.75L135.03 368.99L136.84 369.14L138.65 369.23L140.46 369.3L142.28 369.35L144.09 369.38L145.9 369.4" fill="none" stroke="#00bfc4" stroke-width="0.8" stroke-opacity="0.8"/>
<path d="M39 369.2L40.81 368.97L42.62 368.79L44.44 368.58L46.25 368.35L48.06 368.05L49.87 367.61L51.68 366.95L53.49 366.04L55.31 364.89L57.12 363.47L58.93 361.83L60.74 360.08L62.55 358.44L64.37 357.07L66.18 356.07L67.99 355.43L69.8 355.15L71.61 355.26L73.43 355.75L75.24 356.64L77.05 357.87L78.86 359.29L80.67 360.75L82.48 362.07L84.3 363.16L86.11 363.96L87.92 364.48L89.73 364.69L91.54 364.59L93.36 364.1L95.17 363.21L96.98 361.96L98.79 360.36L100.6 358.46L102.42 356.4L104.23 354.37L106.04 352.59L107.85 351.19L109.66 350.23L111.47 349.72L113.29 349.67L115.1 350.19L116.91 351.35L118.72 353.18L120.53 355.43L122.35 357.82L124.16 360.15L125.97 362.34L127.78 364.27L129.59 365.8L131.41 366.9L133.22 367.64L135.03 368.13L136.84 368.48L138.65 368.75L140.46 368.97L142.28 369.16L144.09 369.29L145.9 369.4" fill="none" stroke="#f8766d" stroke-width="0.8" stroke-opacity="0.8"/>
<path d="M152.1 375.3L152.6 375.3L153.23 377.14L153.72 378.97L154.25 380.81L154.77 382.65L155.26 384.49L155.73 386.32L156.16 388.16L156.57 390L156.95 391.84L157.3 393.67L157.61 395.51L157.89 397.35L158.13 399.18L158.29 401.02L158.25 402.86L157.96 404.7L157.49 406.53L157.05 408.37L156.85 410.21L157.08 412.05L158.01 413.88L159.85 415.72L162.45 417.56L165.38 419.39L168.14 421.23L170.47 423.07L172.28 424.91L173.52 426.74L174.2 428.58L174.24 430.42L173.71 432.26L172.59 434.09L171 435.93L168.97 437.77L166.61 439.61L164.07 441.44L161.71 443.28L159.82 445.12L158.53 446.95L157.73 448.79L157.26 450.63L156.95 452.47L156.68 454.3L156.37 456.14L155.99 457.98L155.52 459.82L155.04 461.65L154.58 463.49L154.17 465.33L153.83 467.16L153.53 469L153.28 470.84L153.07 472.68L152.89 474.51L152.74 476.35L152.6 478.19L152.49 480.03L152.39 481.86L152.3 483.7L152.1 483.7Z" fill="#00bfc4" fill-opacity="0.5"/>
<path d="M152.1 375.3L152.4 375.3L152.76 377.14L153.06 378.97L153.41 380.81L153.76 382.65L154.12 384.49L154.48 386.32L154.86 388.16L155.24 390L155.67 391.84L156.15 393.67L156.72 395.51L157.35 397.35L158.03 399.18L158.72 401.02L159.39 402.86L160.05 404.7L160.69 406.53L161.33 408.37L161.98 410.21L162.63 412.05L163.26 413.88L163.86 415.72L164.39 417.56L164.84 419.39L165.21 421.23L165.5 423.07L165.72 424.91L165.84 426.74L165.83 428.58L165.63 430.42L165.19 432.26L164.57 434.09L163.8 435.93L162.94 437.77L162.03 439.61L161.1 441.44L160.2 443.28L159.34 445.12L158.55 446.95L157.84 448.79L157.23 450.63L156.73 452.47L156.37 454.3L156.19 456.14L156.22 457.98L156.43 459.82L156.75 461.65L157.11 463.49L157.43 465.33L157.67 467.16L157.84 469L157.92 470.84L157.93 472.68L157.86 474.51L157.7 476.35L157.41 478.19L156.96 480.03L156.43 481.86L155.6 483.7L152.1 483.7Z" fill="#f8766d" fill-opacity="0.5"/>
<path d="M152.6 375.3L153.23 377.14L153.72 378.97L154.25 380.81L154.77 382.65L155.26 384.49L155.73 386.32L156.16 388.16L156.57 390L156.95 391.84L157.3 393.67L157.61 395.51L157.89 397.35L158.13 399.18L158.29 401.02L158.25 402.86L157.96 404.7L157.49 406.53L157.05 408.37L156.85 410.21L157.08 412.05L158.01 413.88L159.85 415.72L162.45 417.56L165.38 419.39L168.14 421.23L170.47 423.07L172.28 424.91L173.52 426.74L174.2 428.58L174.24 430.42L173.71 432.26L172.59 434.09L171 435.93L168.97 437.77L166.61 439.61L164.07 441.44L161.71 443.28L159.82 445.12L158.53 446.95L157.73 448.79L157.26 450.63L156.95 452.47L156.68 454.3L156.37 456.14L155.99 457.98L155.52 459.82L155.04 461.65L154.58 463.49L154.17 465.33L153.83 467.16L153.53 469L153.28 470.84L153.07 472.68L152.89 474.51L152.74 476.35L152.6 478.19L152.49 480.03L152.39 481.86L152.3 483.7" fill="none" stroke="#00bfc4" stroke-width="0.8" stroke-opacity="0.8"/>
<path d="M152.4 375.3L152.76 377.14L153.06 378.97L153.41 380.81L153.76 382.65L154.12 384.49L154.48 386.32L154.86 388.16L155.24 390L155.67 391.84L156.15 393.67L156.72 395.51L157.35 397.35L158.03 399.18L158.72 401.02L159.39 402.86L160.05 404.7L160.69 406.53L161.33 408.37L161.98 410.21L162.63 412.05L163.26 413.88L163.86 415.72L164.39 417.56L164.84 419.39L165.21 421.23L165.5 423.07L165.72 424.91L165.84 426.74L165.83 428.58L165.63 430.42L165.19 432.26L164.57 434.09L163.8 435.93L162.94 437.77L162.03 439.61L161.1 441.44L160.2 443.28L159.34 445.12L158.55 446.95L157.84 448.79L157.23 450.63L156.73 452.47L156.37 454.3L156.19 456.14L156.22 457.98L156.43 459.82L156.75 461.65L157.11 463.49L157.43 465.33L157.67 467.16L157.84 469L157.92 470.84L157.93 472.68L157.86 474.51L157.7 476.35L157.41 478.19L156.96 480.03L156.43 481.86L155.6 483.7" fill="none" stroke="#f8766d" stroke-width="0.8" stroke-opacity="0.8"/>
<rect x="33.6" y="370.4" width="117.8" height="118.7" fill="none" stroke="#8a8a8a" stroke-width="1"/>
<path d="M31.8 396.7 H33.6" stroke="#666" stroke-width="0.6"/>
<text x="29.8" y="398.6" font-size="5.5" font-weight="bold" text-anchor="end" fill="#444" stroke="#444" stroke-width="0.1">0.25</text>
<path d="M31.8 428.3 H33.6" stroke="#666" stroke-width="0.6"/>
<text x="29.8" y="430.2" font-size="5.5" font-weight="bold" text-anchor="end" fill="#444" stroke="#444" stroke-width="0.1">0.00</text>
<path d="M31.8 460 H33.6" stroke="#666" stroke-width="0.6"/>
<text x="29.8" y="461.9" font-size="5.5" font-weight="bold" text-anchor="end" fill="#444" stroke="#444" stroke-width="0.1">-0.25</text>
<path d="M61.5 489.1 V490.9" stroke="#666" stroke-width="0.6"/>
<text x="60.9" y="496.3" font-size="5.6" font-weight="bold" text-anchor="middle" fill="#444" stroke="#444" stroke-width="0.1">-0.5</text>
<path d="M91.6 489.1 V490.9" stroke="#666" stroke-width="0.6"/>
<text x="90.7" y="496.3" font-size="5.6" font-weight="bold" text-anchor="middle" fill="#444" stroke="#444" stroke-width="0.1">0.0</text>
<path d="M121.8 489.1 V490.9" stroke="#666" stroke-width="0.6"/>
<text x="118.2" y="496.3" font-size="5.6" font-weight="bold" text-anchor="middle" fill="#444" stroke="#444" stroke-width="0.1">0.5</text>
<path d="M107.4 383.27L109.05 386.24L105.75 386.24ZM109.8 382.67L111.45 385.64L108.15 385.64ZM111 383.87L112.65 386.84L109.35 386.84ZM89.2 393.17L90.85 396.14L87.55 396.14ZM82.3 399.37L83.95 402.34L80.65 402.34ZM77.5 403.87L79.15 406.84L75.85 406.84ZM114.5 395.77L116.15 398.74L112.85 398.74ZM112.8 397.87L114.45 400.84L111.15 400.84ZM107.4 399.87L109.05 402.84L105.75 402.84ZM109.5 402.57L111.15 405.54L107.85 405.54ZM115.4 402.87L117.05 405.84L113.75 405.84ZM81.6 416.37L83.25 419.34L79.95 419.34ZM102.4 415.67L104.05 418.64L100.75 418.64ZM111.9 415.87L113.55 418.84L110.25 418.84ZM115.7 417.67L117.35 420.64L114.05 420.64ZM111.2 418.87L112.85 421.84L109.55 421.84ZM92.6 418.47L94.25 421.44L90.95 421.44ZM95.3 424.77L96.95 427.74L93.65 427.74ZM106.8 424.17L108.45 427.14L105.15 427.14ZM111.6 423.57L113.25 426.54L109.95 426.54ZM81.8 425.37L83.45 428.34L80.15 428.34ZM116.3 430.87L117.95 433.84L114.65 433.84ZM116.7 439.47L118.35 442.44L115.05 442.44ZM114.5 444.67L116.15 447.64L112.85 447.64ZM117.3 445.67L118.95 448.64L115.65 448.64ZM112.5 450.77L114.15 453.74L110.85 453.74ZM117.1 451.27L118.75 454.24L115.45 454.24ZM116.5 456.67L118.15 459.64L114.85 459.64ZM116.5 466.67L118.15 469.64L114.85 469.64ZM88.9 432.57L90.55 435.54L87.25 435.54ZM85.4 453.97L87.05 456.94L83.75 456.94ZM72.3 421.27L73.95 424.24L70.65 424.24ZM71.1 422.97L72.75 425.94L69.45 425.94ZM72.9 424.17L74.55 427.14L71.25 427.14ZM69.9 425.37L71.55 428.34L68.25 428.34ZM71.5 424.77L73.15 427.74L69.85 427.74ZM70.6 426.87L72.25 429.84L68.95 429.84ZM67 429.07L68.65 432.04L65.35 432.04ZM70.5 428.47L72.15 431.44L68.85 431.44ZM73.5 429.67L75.15 432.64L71.85 432.64ZM68.5 427.77L70.15 430.74L66.85 430.74ZM65.8 435.57L67.45 438.54L64.15 438.54ZM67.6 437.37L69.25 440.34L65.95 440.34ZM69.9 438.17L71.55 441.14L68.25 441.14ZM74.1 435.57L75.75 438.54L72.45 438.54ZM71.3 436.77L72.95 439.74L69.65 439.74ZM66.8 434.07L68.45 437.04L65.15 437.04ZM68.4 435.27L70.05 438.24L66.75 438.24ZM70.4 434.47L72.05 437.44L68.75 437.44Z" fill="#27b3b8"/>
<circle cx="111.3" cy="390.6" r="1.3" fill="#e9786f"/>
<circle cx="109" cy="398.1" r="1.3" fill="#e9786f"/>
<circle cx="111.6" cy="404.6" r="1.3" fill="#e9786f"/>
<circle cx="114.8" cy="409.3" r="1.3" fill="#e9786f"/>
<circle cx="85.3" cy="408.6" r="1.3" fill="#e9786f"/>
<circle cx="71.6" cy="412" r="1.3" fill="#e9786f"/>
<circle cx="74.1" cy="419.6" r="1.3" fill="#e9786f"/>
<circle cx="72.9" cy="419.9" r="1.3" fill="#e9786f"/>
<circle cx="105" cy="419" r="1.3" fill="#e9786f"/>
<circle cx="115.1" cy="416.8" r="1.3" fill="#e9786f"/>
<circle cx="112.8" cy="422" r="1.3" fill="#e9786f"/>
<circle cx="113.3" cy="428.3" r="1.3" fill="#e9786f"/>
<circle cx="113.3" cy="429.6" r="1.3" fill="#e9786f"/>
<circle cx="105.9" cy="447.4" r="1.3" fill="#e9786f"/>
<circle cx="115.1" cy="450.9" r="1.3" fill="#e9786f"/>
<circle cx="70.2" cy="443.8" r="1.3" fill="#e9786f"/>
<circle cx="115.7" cy="464.9" r="1.3" fill="#e9786f"/>
<circle cx="113.6" cy="467.8" r="1.3" fill="#e9786f"/>
<circle cx="115.7" cy="474.1" r="1.3" fill="#e9786f"/>
<circle cx="115.5" cy="476.6" r="1.3" fill="#e9786f"/>
<circle cx="116.1" cy="477.4" r="1.3" fill="#e9786f"/>
<circle cx="115.3" cy="477.6" r="1.3" fill="#e9786f"/>
<circle cx="66.4" cy="433.5" r="1.3" fill="#e9786f"/>
<circle cx="68.8" cy="433.2" r="1.3" fill="#e9786f"/>
<circle cx="71.7" cy="432.6" r="1.3" fill="#e9786f"/>
<circle cx="69.4" cy="427.7" r="1.3" fill="#e9786f"/>
<circle cx="67.5" cy="432.2" r="1.3" fill="#e9786f"/>
<circle cx="70.3" cy="433.6" r="1.3" fill="#e9786f"/>
<text x="11.5" y="364.8" font-size="11.6" font-weight="bold" text-anchor="start" fill="#111" textLength="6.4" lengthAdjust="spacingAndGlyphs" stroke="#111" stroke-width="0.22">F</text>
<text x="94" y="503.5" font-size="8.6" font-weight="bold" text-anchor="middle" fill="#111" textLength="50.8" lengthAdjust="spacingAndGlyphs" stroke="#111" stroke-width="0.36">PCoA1 (34.8%)</text>
<text transform="translate(15.7 426.2) rotate(-90)" font-size="8.6" font-weight="bold" text-anchor="middle" fill="#111" stroke="#111" stroke-width="0.36" textLength="47.8" lengthAdjust="spacingAndGlyphs">PCoA2 (7.9%)</text>
<text x="36.5" y="479.8" font-size="5.9" font-weight="bold" text-anchor="start" fill="#222" textLength="23.6" lengthAdjust="spacingAndGlyphs" stroke="#222" stroke-width="0.22">R = 0.079</text>
<text x="36.5" y="485.95" font-size="5.9" font-weight="bold" fill="#222" textLength="22.8" lengthAdjust="spacingAndGlyphs"><tspan font-style="italic">P</tspan> = 0.021</text>
<text x="171.2" y="370.3" font-size="11.4" font-weight="bold" text-anchor="start" fill="#111" textLength="48" lengthAdjust="spacingAndGlyphs" stroke="#111" stroke-width="0.22">Sexual role</text>
<text x="171.7" y="383.1" font-size="8.3" font-weight="bold" text-anchor="start" fill="#1fb8bd" textLength="31.8" lengthAdjust="spacingAndGlyphs" stroke="#1fb8bd" stroke-width="0.36">Receptive</text>
<path d="M210.2 377.88L212.7 382.38L207.7 382.38Z" fill="#1fb8bd"/>
<text x="171.7" y="396.3" font-size="8.4" font-weight="bold" fill="#f47c74" stroke="#f47c74" stroke-width="0.36" textLength="38.3" lengthAdjust="spacing">Insertive</text>
<circle cx="214.8" cy="394.4" r="1.65" fill="#f47c74"/>
<clipPath id="cg"><rect x="267.6" y="368.8" width="118.8" height="118.2"/></clipPath>
<rect x="267.6" y="368.8" width="118.8" height="118.2" fill="#fff"/>
<g clip-path="url(#cg)">
<ellipse cx="327.2" cy="425.2" rx="65.7" ry="37.9" transform="rotate(-45 327.2 425.2)" fill="#00bfc4" fill-opacity="0.115"/>
<ellipse cx="318.4" cy="434" rx="38.7" ry="22.5" transform="rotate(-3.5 318.4 434)" fill="#f8766d" fill-opacity="0.09"/>
</g>
<path d="M272.9 368.1L272.9 368.1L274.73 367.99L276.56 367.85L278.4 367.64L280.23 367.36L282.06 366.97L283.89 366.46L285.73 365.85L287.56 365.16L289.39 364.4L291.22 363.58L293.05 362.73L294.89 361.89L296.72 361.13L298.55 360.49L300.38 359.99L302.22 359.64L304.05 359.47L305.88 359.46L307.71 359.61L309.54 359.84L311.38 360.1L313.21 360.34L315.04 360.51L316.87 360.59L318.71 360.49L320.54 360.14L322.37 359.5L324.2 358.57L326.03 357.38L327.87 356.02L329.7 354.64L331.53 353.44L333.36 352.53L335.19 351.96L337.03 351.69L338.86 351.69L340.69 351.98L342.52 352.61L344.36 353.63L346.19 354.97L348.02 356.58L349.85 358.32L351.68 360.1L353.52 361.77L355.35 363.27L357.18 364.52L359.01 365.53L360.85 366.29L362.68 366.81L364.51 367.17L366.34 367.4L368.17 367.57L370.01 367.69L371.84 367.79L373.67 367.87L375.5 367.94L377.34 368.01L379.17 368.05L381 368.1L381 368.1Z" fill="#00bfc4" fill-opacity="0.5"/>
<path d="M272.9 368.1L272.9 367.6L274.73 367.59L276.56 367.57L278.4 367.54L280.23 367.51L282.06 367.44L283.89 367.35L285.73 367.18L287.56 366.84L289.39 366.2L291.22 365.08L293.05 363.41L294.89 361.1L296.72 358.19L298.55 354.9L300.38 351.66L302.22 348.98L304.05 347.21L305.88 346.52L307.71 347.01L309.54 348.59L311.38 351.03L313.21 353.83L315.04 356.52L316.87 358.73L318.71 360.37L320.54 361.47L322.37 362.19L324.2 362.54L326.03 362.43L327.87 361.66L329.7 360.18L331.53 358.06L333.36 355.52L335.19 352.9L337.03 350.65L338.86 349.21L340.69 348.8L342.52 349.56L344.36 351.38L346.19 354.07L348.02 357.18L349.85 360.26L351.68 362.9L353.52 364.86L355.35 366.11L357.18 366.81L359.01 367.16L360.85 367.34L362.68 367.42L364.51 367.47L366.34 367.49L368.17 367.5L370.01 367.5L371.84 367.5L373.67 367.5L375.5 367.5L377.34 367.5L379.17 367.5L381 367.5L381 368.1Z" fill="#f8766d" fill-opacity="0.5"/>
<path d="M272.9 368.1L274.73 367.99L276.56 367.85L278.4 367.64L280.23 367.36L282.06 366.97L283.89 366.46L285.73 365.85L287.56 365.16L289.39 364.4L291.22 363.58L293.05 362.73L294.89 361.89L296.72 361.13L298.55 360.49L300.38 359.99L302.22 359.64L304.05 359.47L305.88 359.46L307.71 359.61L309.54 359.84L311.38 360.1L313.21 360.34L315.04 360.51L316.87 360.59L318.71 360.49L320.54 360.14L322.37 359.5L324.2 358.57L326.03 357.38L327.87 356.02L329.7 354.64L331.53 353.44L333.36 352.53L335.19 351.96L337.03 351.69L338.86 351.69L340.69 351.98L342.52 352.61L344.36 353.63L346.19 354.97L348.02 356.58L349.85 358.32L351.68 360.1L353.52 361.77L355.35 363.27L357.18 364.52L359.01 365.53L360.85 366.29L362.68 366.81L364.51 367.17L366.34 367.4L368.17 367.57L370.01 367.69L371.84 367.79L373.67 367.87L375.5 367.94L377.34 368.01L379.17 368.05L381 368.1" fill="none" stroke="#00bfc4" stroke-width="0.8" stroke-opacity="0.8"/>
<path d="M272.9 367.6L274.73 367.59L276.56 367.57L278.4 367.54L280.23 367.51L282.06 367.44L283.89 367.35L285.73 367.18L287.56 366.84L289.39 366.2L291.22 365.08L293.05 363.41L294.89 361.1L296.72 358.19L298.55 354.9L300.38 351.66L302.22 348.98L304.05 347.21L305.88 346.52L307.71 347.01L309.54 348.59L311.38 351.03L313.21 353.83L315.04 356.52L316.87 358.73L318.71 360.37L320.54 361.47L322.37 362.19L324.2 362.54L326.03 362.43L327.87 361.66L329.7 360.18L331.53 358.06L333.36 355.52L335.19 352.9L337.03 350.65L338.86 349.21L340.69 348.8L342.52 349.56L344.36 351.38L346.19 354.07L348.02 357.18L349.85 360.26L351.68 362.9L353.52 364.86L355.35 366.11L357.18 366.81L359.01 367.16L360.85 367.34L362.68 367.42L364.51 367.47L366.34 367.49L368.17 367.5L370.01 367.5L371.84 367.5L373.67 367.5L375.5 367.5L377.34 367.5L379.17 367.5L381 367.5" fill="none" stroke="#f8766d" stroke-width="0.8" stroke-opacity="0.8"/>
<path d="M387.1 386L387.3 386L387.5 387.61L387.72 389.23L388.04 390.84L388.42 392.45L388.86 394.07L389.34 395.68L389.84 397.29L390.38 398.91L390.94 400.52L391.51 402.14L392.08 403.75L392.65 405.36L393.2 406.98L393.71 408.59L394.16 410.2L394.55 411.82L394.87 413.43L395.1 415.04L395.24 416.66L395.32 418.27L395.34 419.88L395.29 421.5L395.16 423.11L394.99 424.73L394.85 426.34L394.75 427.95L394.66 429.57L394.56 431.18L394.43 432.79L394.27 434.41L394.09 436.02L393.87 437.63L393.62 439.25L393.35 440.86L393.06 442.47L392.78 444.09L392.51 445.7L392.23 447.32L391.96 448.93L391.68 450.54L391.41 452.16L391.14 453.77L390.9 455.38L390.67 457L390.46 458.61L390.25 460.22L390.05 461.84L389.86 463.45L389.67 465.06L389.47 466.68L389.27 468.29L389.07 469.91L388.86 471.52L388.68 473.13L388.52 474.75L388.38 476.36L388.14 477.97L387.82 479.59L387.1 481.2L387.1 481.2Z" fill="#00bfc4" fill-opacity="0.5"/>
<path d="M387.1 373.9L387.7 373.9L387.7 375.71L387.7 377.52L387.7 379.33L387.7 381.14L387.7 382.95L387.7 384.76L387.7 386.57L387.7 388.38L387.7 390.19L387.7 392L387.7 393.81L387.7 395.62L387.7 397.43L387.71 399.24L387.76 401.05L387.9 402.86L388.16 404.67L388.55 406.48L389.09 408.29L389.76 410.1L390.53 411.91L391.32 413.72L392 415.53L392.45 417.34L392.67 419.15L392.84 420.96L393.25 422.77L394.34 424.58L396.29 426.39L399.08 428.21L402.2 430.02L405.11 431.83L407.09 433.64L407.5 435.45L405.95 437.26L402.82 439.07L399.11 440.88L395.87 442.69L393.57 444.5L392.15 446.31L391.28 448.12L390.67 449.93L390.18 451.74L389.75 453.55L389.4 455.36L389.09 457.17L388.82 458.98L388.59 460.79L388.38 462.6L388.19 464.41L388.02 466.22L387.87 468.03L387.75 469.84L387.64 471.65L387.55 473.46L387.47 475.27L387.4 477.08L387.35 478.89L387.3 480.7L387.1 480.7Z" fill="#f8766d" fill-opacity="0.5"/>
<path d="M387.3 386L387.5 387.61L387.72 389.23L388.04 390.84L388.42 392.45L388.86 394.07L389.34 395.68L389.84 397.29L390.38 398.91L390.94 400.52L391.51 402.14L392.08 403.75L392.65 405.36L393.2 406.98L393.71 408.59L394.16 410.2L394.55 411.82L394.87 413.43L395.1 415.04L395.24 416.66L395.32 418.27L395.34 419.88L395.29 421.5L395.16 423.11L394.99 424.73L394.85 426.34L394.75 427.95L394.66 429.57L394.56 431.18L394.43 432.79L394.27 434.41L394.09 436.02L393.87 437.63L393.62 439.25L393.35 440.86L393.06 442.47L392.78 444.09L392.51 445.7L392.23 447.32L391.96 448.93L391.68 450.54L391.41 452.16L391.14 453.77L390.9 455.38L390.67 457L390.46 458.61L390.25 460.22L390.05 461.84L389.86 463.45L389.67 465.06L389.47 466.68L389.27 468.29L389.07 469.91L388.86 471.52L388.68 473.13L388.52 474.75L388.38 476.36L388.14 477.97L387.82 479.59L387.1 481.2" fill="none" stroke="#00bfc4" stroke-width="0.8" stroke-opacity="0.8"/>
<path d="M387.7 373.9L387.7 375.71L387.7 377.52L387.7 379.33L387.7 381.14L387.7 382.95L387.7 384.76L387.7 386.57L387.7 388.38L387.7 390.19L387.7 392L387.7 393.81L387.7 395.62L387.7 397.43L387.71 399.24L387.76 401.05L387.9 402.86L388.16 404.67L388.55 406.48L389.09 408.29L389.76 410.1L390.53 411.91L391.32 413.72L392 415.53L392.45 417.34L392.67 419.15L392.84 420.96L393.25 422.77L394.34 424.58L396.29 426.39L399.08 428.21L402.2 430.02L405.11 431.83L407.09 433.64L407.5 435.45L405.95 437.26L402.82 439.07L399.11 440.88L395.87 442.69L393.57 444.5L392.15 446.31L391.28 448.12L390.67 449.93L390.18 451.74L389.75 453.55L389.4 455.36L389.09 457.17L388.82 458.98L388.59 460.79L388.38 462.6L388.19 464.41L388.02 466.22L387.87 468.03L387.75 469.84L387.64 471.65L387.55 473.46L387.47 475.27L387.4 477.08L387.35 478.89L387.3 480.7" fill="none" stroke="#f8766d" stroke-width="0.8" stroke-opacity="0.8"/>
<rect x="267.6" y="368.8" width="118.8" height="118.2" fill="none" stroke="#8a8a8a" stroke-width="1"/>
<path d="M265.8 372.7 H267.6" stroke="#666" stroke-width="0.6"/>
<text x="263.8" y="374.6" font-size="5.5" font-weight="bold" text-anchor="end" fill="#444" stroke="#444" stroke-width="0.1">0.8</text>
<path d="M265.8 403.4 H267.6" stroke="#666" stroke-width="0.6"/>
<text x="263.8" y="405.3" font-size="5.5" font-weight="bold" text-anchor="end" fill="#444" stroke="#444" stroke-width="0.1">0.4</text>
<path d="M265.8 434.2 H267.6" stroke="#666" stroke-width="0.6"/>
<text x="263.8" y="436.1" font-size="5.5" font-weight="bold" text-anchor="end" fill="#444" stroke="#444" stroke-width="0.1">0.0</text>
<path d="M265.8 465.1 H267.6" stroke="#666" stroke-width="0.6"/>
<text x="263.8" y="467" font-size="5.5" font-weight="bold" text-anchor="end" fill="#444" stroke="#444" stroke-width="0.1">-0.4</text>
<path d="M271.5 487 V488.8" stroke="#666" stroke-width="0.6"/>
<text x="273.7" y="494.2" font-size="5.6" font-weight="bold" text-anchor="middle" fill="#444" stroke="#444" stroke-width="0.1">-1.0</text>
<path d="M297.3 487 V488.8" stroke="#666" stroke-width="0.6"/>
<text x="298.9" y="494.2" font-size="5.6" font-weight="bold" text-anchor="middle" fill="#444" stroke="#444" stroke-width="0.1">-0.5</text>
<path d="M322.4 487 V488.8" stroke="#666" stroke-width="0.6"/>
<text x="323" y="494.2" font-size="5.6" font-weight="bold" text-anchor="middle" fill="#444" stroke="#444" stroke-width="0.1">0.0</text>
<path d="M347.5 487 V488.8" stroke="#666" stroke-width="0.6"/>
<text x="348.4" y="494.2" font-size="5.6" font-weight="bold" text-anchor="middle" fill="#444" stroke="#444" stroke-width="0.1">0.5</text>
<path d="M372.6 487 V488.8" stroke="#666" stroke-width="0.6"/>
<text x="373.2" y="494.2" font-size="5.6" font-weight="bold" text-anchor="middle" fill="#444" stroke="#444" stroke-width="0.1">1.0</text>
<path d="M335.7 406.17L337.35 409.14L334.05 409.14ZM337.9 417.77L339.55 420.74L336.25 420.74ZM338.8 417.87L340.45 420.84L337.15 420.84ZM304.2 439.27L305.85 442.24L302.55 442.24ZM305 439.47L306.65 442.44L303.35 442.44ZM342.6 463.47L344.25 466.44L340.95 466.44Z" fill="#27b3b8"/>
<circle cx="337.9" cy="407.9" r="1.3" fill="#e9786f"/>
<circle cx="339" cy="411.1" r="1.3" fill="#e9786f"/>
<circle cx="320.5" cy="414.1" r="1.3" fill="#e9786f"/>
<circle cx="315" cy="417.8" r="1.3" fill="#e9786f"/>
<circle cx="311.1" cy="420.7" r="1.3" fill="#e9786f"/>
<circle cx="317.6" cy="422.4" r="1.3" fill="#e9786f"/>
<circle cx="306.3" cy="424.5" r="1.3" fill="#e9786f"/>
<circle cx="336.9" cy="415.9" r="1.3" fill="#e9786f"/>
<circle cx="341.4" cy="415.6" r="1.3" fill="#e9786f"/>
<circle cx="340.2" cy="416.8" r="1.3" fill="#e9786f"/>
<circle cx="335.7" cy="418.2" r="1.3" fill="#e9786f"/>
<circle cx="342" cy="420" r="1.3" fill="#e9786f"/>
<circle cx="341.8" cy="422.7" r="1.3" fill="#e9786f"/>
<circle cx="331.9" cy="426.3" r="1.3" fill="#e9786f"/>
<circle cx="342" cy="426.3" r="1.3" fill="#e9786f"/>
<circle cx="314.6" cy="428.4" r="1.3" fill="#e9786f"/>
<circle cx="314.6" cy="433.8" r="1.3" fill="#e9786f"/>
<circle cx="320.5" cy="438.3" r="1.3" fill="#e9786f"/>
<circle cx="323.7" cy="429.6" r="1.3" fill="#e9786f"/>
<circle cx="325.3" cy="432.9" r="1.3" fill="#e9786f"/>
<circle cx="317.3" cy="451.3" r="1.3" fill="#e9786f"/>
<circle cx="331.9" cy="428.2" r="1.3" fill="#e9786f"/>
<circle cx="335.5" cy="432.7" r="1.3" fill="#e9786f"/>
<circle cx="339" cy="432.3" r="1.3" fill="#e9786f"/>
<circle cx="340.2" cy="428.8" r="1.3" fill="#e9786f"/>
<circle cx="341.4" cy="435.1" r="1.3" fill="#e9786f"/>
<circle cx="343.2" cy="436.7" r="1.3" fill="#e9786f"/>
<circle cx="343.4" cy="442.4" r="1.3" fill="#e9786f"/>
<circle cx="334.3" cy="446" r="1.3" fill="#e9786f"/>
<circle cx="342" cy="445.4" r="1.3" fill="#e9786f"/>
<circle cx="343.8" cy="446" r="1.3" fill="#e9786f"/>
<circle cx="340.2" cy="448.9" r="1.3" fill="#e9786f"/>
<circle cx="343.2" cy="449.3" r="1.3" fill="#e9786f"/>
<circle cx="343.2" cy="452.9" r="1.3" fill="#e9786f"/>
<circle cx="342.6" cy="456.6" r="1.3" fill="#e9786f"/>
<circle cx="340.8" cy="458.4" r="1.3" fill="#e9786f"/>
<circle cx="343.6" cy="458.4" r="1.3" fill="#e9786f"/>
<circle cx="342.6" cy="462.6" r="1.3" fill="#e9786f"/>
<circle cx="342.6" cy="464" r="1.3" fill="#e9786f"/>
<circle cx="308.4" cy="428.6" r="1.3" fill="#e9786f"/>
<circle cx="307.2" cy="429.6" r="1.3" fill="#e9786f"/>
<circle cx="308.9" cy="430.2" r="1.3" fill="#e9786f"/>
<circle cx="306.6" cy="431.2" r="1.3" fill="#e9786f"/>
<circle cx="307.9" cy="431.8" r="1.3" fill="#e9786f"/>
<circle cx="305.6" cy="432.6" r="1.3" fill="#e9786f"/>
<circle cx="307" cy="433.4" r="1.3" fill="#e9786f"/>
<circle cx="308.3" cy="433.2" r="1.3" fill="#e9786f"/>
<circle cx="304.6" cy="434.2" r="1.3" fill="#e9786f"/>
<circle cx="306" cy="435" r="1.3" fill="#e9786f"/>
<circle cx="307.5" cy="434.8" r="1.3" fill="#e9786f"/>
<circle cx="303.4" cy="435.8" r="1.3" fill="#e9786f"/>
<circle cx="305" cy="436.4" r="1.3" fill="#e9786f"/>
<circle cx="306.6" cy="436.4" r="1.3" fill="#e9786f"/>
<circle cx="302.4" cy="437.2" r="1.3" fill="#e9786f"/>
<circle cx="303.8" cy="437.8" r="1.3" fill="#e9786f"/>
<circle cx="305.4" cy="438" r="1.3" fill="#e9786f"/>
<circle cx="301.8" cy="438.8" r="1.3" fill="#e9786f"/>
<circle cx="303" cy="439.4" r="1.3" fill="#e9786f"/>
<circle cx="301.6" cy="440" r="1.3" fill="#e9786f"/>
<circle cx="308.1" cy="440" r="1.3" fill="#e9786f"/>
<circle cx="305.5" cy="443.6" r="1.3" fill="#e9786f"/>
<circle cx="309" cy="435.6" r="1.3" fill="#e9786f"/>
<circle cx="302.6" cy="436.4" r="1.3" fill="#e9786f"/>
<path d="M304.4 439.37L306.05 442.34L302.75 442.34Z" fill="#1fb8bd"/>
<path d="M338.2 417.87L339.85 420.84L336.55 420.84Z" fill="#1fb8bd"/>
<text x="244.4" y="363.6" font-size="11.6" font-weight="bold" text-anchor="start" fill="#111" textLength="8.6" lengthAdjust="spacingAndGlyphs" stroke="#111" stroke-width="0.22">G</text>
<text x="328.7" y="503.5" font-size="8.6" font-weight="bold" text-anchor="middle" fill="#111" textLength="51.2" lengthAdjust="spacingAndGlyphs" stroke="#111" stroke-width="0.36">PCoA1 (34.8%)</text>
<text transform="translate(252.6 426) rotate(-90)" font-size="8.6" font-weight="bold" text-anchor="middle" fill="#111" stroke="#111" stroke-width="0.36" textLength="47.6" lengthAdjust="spacingAndGlyphs">PCoA2 (7.9%)</text>
<text x="359.2" y="478.9" font-size="5.9" font-weight="bold" text-anchor="start" fill="#222" textLength="23.6" lengthAdjust="spacingAndGlyphs" stroke="#222" stroke-width="0.22">R = 0.172</text>
<text x="359.2" y="485.05" font-size="5.9" font-weight="bold" fill="#222" textLength="22.8" lengthAdjust="spacingAndGlyphs"><tspan font-style="italic">P</tspan> = 0.041</text>
<text x="405.8" y="370.1" font-size="11.4" font-weight="bold" text-anchor="start" fill="#111" textLength="54" lengthAdjust="spacingAndGlyphs" stroke="#111" stroke-width="0.22">Condom use</text>
<text x="406.3" y="382.9" font-size="8.3" font-weight="bold" text-anchor="start" fill="#1fb8bd" textLength="9.3" lengthAdjust="spacingAndGlyphs" stroke="#1fb8bd" stroke-width="0.36">No</text>
<path d="M422.3 377.67L424.8 382.17L419.8 382.17Z" fill="#1fb8bd"/>
<text x="406.3" y="396.1" font-size="8.4" font-weight="bold" fill="#f47c74" stroke="#f47c74" stroke-width="0.36" textLength="15.6" lengthAdjust="spacing">Yes</text>
<circle cx="426.7" cy="394.2" r="1.65" fill="#f47c74"/>
</svg>
</body></html>
